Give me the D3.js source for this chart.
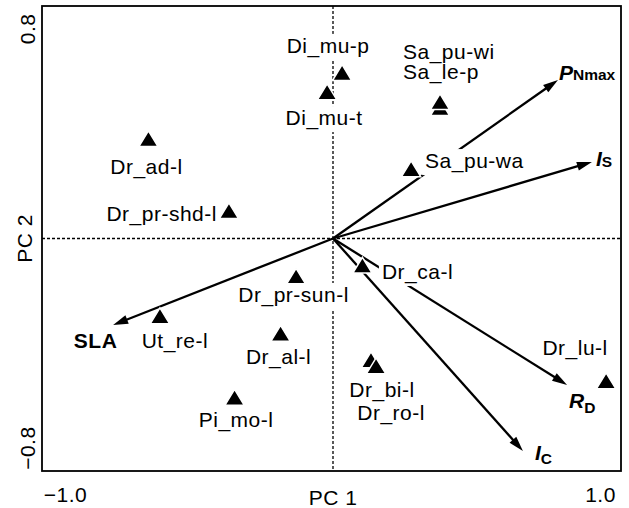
<!DOCTYPE html>
<html>
<head>
<meta charset="utf-8">
<script src="https://cdn.jsdelivr.net/npm/d3@7"></script>
<style>
  html, body { margin: 0; padding: 0; background: #fff; }
  svg { display: block; font-family: "Liberation Sans", Arial, Helvetica, sans-serif; }
</style>
</head>
<body>
<svg id="chart" width="629" height="508"></svg>
<script>
// ---- data ----
const pointNames = ["Di_mu-p", "Di_mu-t", "Sa_le-p", "Sa_pu-wi", "Sa_pu-wa", "Dr_ad-l", "Dr_pr-shd-l",
  "Dr_pr-sun-l", "Ut_re-l", "Dr_al-l", "Pi_mo-l", "Dr_ca-l", "Dr_bi-l", "Dr_ro-l", "Dr_lu-l"];
const pointPC1 = [0.034, -0.022, 0.400, 0.400, 0.292, -0.690, -0.389,
  -0.138, -0.647, -0.196, -0.368, 0.110, 0.142, 0.161, 1.021];
const pointPC2 = [0.632, 0.559, 0.498, 0.521, 0.265, 0.380, 0.105,
  -0.145, -0.296, -0.363, -0.607, -0.103, -0.464, -0.487, -0.544];

const varNames = ["PNmax", "IS", "RD", "IC", "SLA"];
const varMain = ["P", "I", "R", "I", "SLA"];
const varSub = ["Nmax", "S", "D", "C", ""];
const varPC1 = [0.841, 0.968, 0.875, 0.710, -0.822];
const varPC2 = [0.605, 0.292, -0.559, -0.811, -0.330];

const xTicks = [-1.0, 1.0];
const yTicks = [-0.8, 0.8];
const xTitle = "PC 1";
const yTitle = "PC 2";

// ---- layout (label offsets in px) ----
const pointLabelLayout = {
  "Di_mu-p": [-14, -20, "middle"], "Di_mu-t": [-3, 33, "middle"],
  "Sa_le-p": [-37, -29, "start"], "Sa_pu-wi": [-37, -43, "start"],
  "Sa_pu-wa": [14, -1, "start"], "Dr_ad-l": [-2, 35, "middle"],
  "Dr_pr-shd-l": [-12, 10, "end"], "Dr_pr-sun-l": [-2.5, 25.5, "middle"],
  "Ut_re-l": [15, 32, "middle"], "Dr_al-l": [-2, 30.5, "middle"],
  "Pi_mo-l": [1.5, 29.5, "middle"], "Dr_ca-l": [19.5, 13.5, "start"],
  "Dr_bi-l": [11, 37, "middle"], "Dr_ro-l": [15, 54, "middle"],
  "Dr_lu-l": [-31, -26, "middle"]
};
const varLabelLayout = {
  "PNmax": [1, 0, "start", 0], "IS": [4, 4, "start", 1], "RD": [2, 23, "start", 5],
  "IC": [12, 9, "start", 4], "SLA": [-17.5, 23, "middle", 0]
};

const svg = d3.select("#chart");
const x = d3.scaleLinear().domain([-1, 1]).range([65.5, 600.5]);
const y = d3.scaleLinear().domain([-0.8, 0.8]).range([448.1, 28.9]);
const box = { left: 42, right: 621, top: 6, bottom: 471 };
const FS = 21, LS = 0.5;

// dashed zero lines
svg.append("line").attr("x1", box.left).attr("x2", box.right)
  .attr("y1", y(0)).attr("y2", y(0))
  .attr("stroke", "#000").attr("stroke-width", 1.3).attr("stroke-dasharray", "3,2");
svg.append("line").attr("x1", x(0)).attr("x2", x(0))
  .attr("y1", box.top).attr("y2", box.bottom)
  .attr("stroke", "#000").attr("stroke-width", 1.3).attr("stroke-dasharray", "3,2");

// arrows
const headLen = 15, headHalf = 4.5;
varNames.forEach((n, i) => {
  const x0 = x(0), y0 = y(0), x1 = x(varPC1[i]), y1 = y(varPC2[i]);
  const dx = x1 - x0, dy = y1 - y0, L = Math.hypot(dx, dy);
  const ux = dx / L, uy = dy / L;
  const bx = x1 - ux * headLen, by = y1 - uy * headLen;
  svg.append("line").attr("x1", x0).attr("y1", y0)
    .attr("x2", x1 - ux * (headLen - 2)).attr("y2", y1 - uy * (headLen - 2))
    .attr("stroke", "#000").attr("stroke-width", 2.3);
  svg.append("path")
    .attr("d", `M${x1},${y1}L${bx - uy * headHalf},${by + ux * headHalf}L${bx + uy * headHalf},${by - ux * headHalf}Z`)
    .attr("fill", "#000");
});

// triangles
pointNames.forEach((n, i) => {
  svg.append("path")
    .attr("d", "M0,-8.2L9.6,7.6L-9.6,7.6Z")
    .attr("transform", `translate(${x(pointPC1[i])},${y(pointPC2[i])})`)
    .attr("fill", "#000").attr("stroke", "#fff").attr("stroke-width", 1.5);
});

// point labels with white background (all boxes first, then all texts)
const boxLayer = svg.append("g");
const textLayer = svg.append("g");
pointNames.forEach((n, i) => {
  const [ldx, ldy, anchor] = pointLabelLayout[n];
  const t = textLayer.append("text")
    .attr("x", x(pointPC1[i]) + ldx).attr("y", y(pointPC2[i]) + ldy)
    .attr("text-anchor", anchor).attr("font-size", FS).attr("letter-spacing", LS)
    .attr("fill", "#000")
    .text(n);
  const bb = t.node().getBBox();
  boxLayer.append("rect")
    .attr("x", bb.x - 3).attr("y", bb.y).attr("width", bb.width + 6).attr("height", bb.height + 2)
    .attr("fill", "#fff");
});

// variable labels
varNames.forEach((n, i) => {
  const [ldx, ldy, anchor, subDy] = varLabelLayout[n];
  const t = svg.append("text")
    .attr("x", x(varPC1[i]) + ldx).attr("y", y(varPC2[i]) + ldy)
    .attr("text-anchor", anchor).attr("font-weight", "bold").attr("fill", "#000");
  t.append("tspan").attr("font-size", FS).attr("letter-spacing", n === "SLA" ? LS : 0)
    .attr("font-style", n === "SLA" ? "normal" : "italic").text(varMain[i]);
  if (varSub[i]) {
    t.append("tspan").attr("font-size", 15.5).attr("dy", subDy).text(varSub[i]);
  }
});

// tick labels
svg.selectAll(".xt").data(xTicks).enter().append("text")
  .attr("x", d => x(d)).attr("y", 502).attr("text-anchor", "middle")
  .attr("font-size", FS).attr("letter-spacing", LS)
  .text(d => d3.format(".1f")(d).replace("-", "\u2212"));
svg.selectAll(".yt").data(yTicks).enter().append("text")
  .attr("transform", d => `translate(35,${y(d)}) rotate(-90)`)
  .attr("text-anchor", "middle").attr("font-size", FS).attr("letter-spacing", LS)
  .text(d => d3.format(".1f")(d).replace("-", "\u2212"));

// axis titles
svg.append("text").attr("x", x(0)).attr("y", 505).attr("text-anchor", "middle")
  .attr("font-size", FS).attr("letter-spacing", LS).text(xTitle);
svg.append("text").attr("transform", `translate(32,${y(0)}) rotate(-90)`)
  .attr("text-anchor", "middle").attr("font-size", FS).attr("letter-spacing", LS).text(yTitle);

// plot box
svg.append("rect").attr("x", box.left).attr("y", box.top)
  .attr("width", box.right - box.left).attr("height", box.bottom - box.top)
  .attr("fill", "none").attr("stroke", "#000").attr("stroke-width", 1.8);
</script>
</body>
</html>
